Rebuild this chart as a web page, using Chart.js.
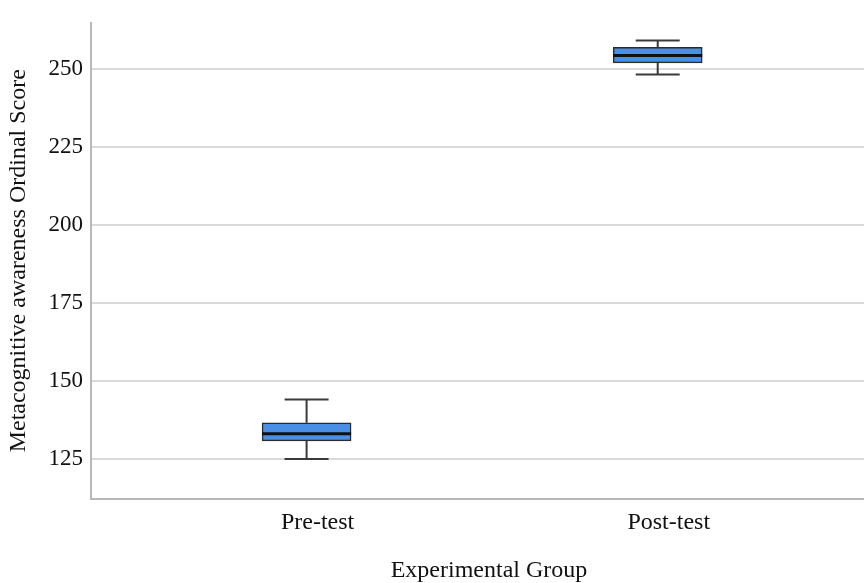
<!DOCTYPE html>
<html>
<head>
<meta charset="utf-8">
<script src="https://cdn.jsdelivr.net/npm/chart.js@4.4.0/dist/chart.umd.min.js"></script>
<style>
  html, body { margin: 0; padding: 0; background: #fff; overflow: hidden; }
  /* the original figure is cropped on the right, so the chart is a bit wider than the window */
  #wrap { width: 887px; height: 583px; }
</style>
</head>
<body>
<div id="wrap"><canvas id="boxChart"></canvas></div>
<script>
// box plot data
const groups = ['Pre-test', 'Post-test'];
const groupPos = [1, 2];
const mins = [125, 248.4];
const q1s = [130.8, 252.1];
const medians = [133.1, 254.5];
const q3s = [136.6, 257.1];
const maxs = [144.1, 259.3];
const yTicks = [125, 150, 175, 200, 225, 250];

const serif = "'Liberation Serif', 'DejaVu Serif', serif";

// whiskers + median drawn through the chart scales
const whiskerPlugin = {
    id: 'whiskers',
    afterDatasetsDraw(chart) {
        const ctx = chart.ctx;
        const x = chart.scales.x;
        const y = chart.scales.y;
        ctx.save();
        groupPos.forEach((p, i) => {
            const cx = x.getPixelForValue(p);
            const half = 44.5;
            const capHalf = 22;
            ctx.strokeStyle = '#3a3a3a';
            ctx.lineWidth = 2;
            ctx.beginPath();
            ctx.moveTo(cx, y.getPixelForValue(q3s[i]));
            ctx.lineTo(cx, y.getPixelForValue(maxs[i]));
            ctx.moveTo(cx, y.getPixelForValue(q1s[i]));
            ctx.lineTo(cx, y.getPixelForValue(mins[i]));
            ctx.moveTo(cx - capHalf, y.getPixelForValue(maxs[i]));
            ctx.lineTo(cx + capHalf, y.getPixelForValue(maxs[i]));
            ctx.moveTo(cx - capHalf, y.getPixelForValue(mins[i]));
            ctx.lineTo(cx + capHalf, y.getPixelForValue(mins[i]));
            ctx.stroke();
            // median
            ctx.strokeStyle = '#111';
            ctx.lineWidth = 3;
            ctx.beginPath();
            ctx.moveTo(cx - half, y.getPixelForValue(medians[i]));
            ctx.lineTo(cx + half, y.getPixelForValue(medians[i]));
            ctx.stroke();
        });
        ctx.restore();
    }
};

const ctx1 = document.getElementById('boxChart').getContext('2d');
const boxChart = new Chart(ctx1, {
    type: 'bar',
    data: {
        datasets: [{
            label: 'Box',
            data: groupPos.map((p, i) => ({ x: p, y: [q1s[i], q3s[i]] })),
            backgroundColor: '#4a8fe6',
            borderColor: '#2b2b2b',
            borderWidth: 1.5,
            borderSkipped: false,
            barThickness: 89
        }]
    },
    options: {
        responsive: true,
        maintainAspectRatio: false,
        animation: false,
        layout: { padding: { top: 23, right: 0, left: 0, bottom: 0 } },
        plugins: {
            legend: { display: false },
            tooltip: { enabled: false }
        },
        scales: {
            x: {
                type: 'linear',
                offset: false,
                min: 0.386,
                max: 2.653,
                afterBuildTicks: (scale) => { scale.ticks = groupPos.map(v => ({ value: v })); },
                afterFit: (scale) => { scale.height = 84.5; },
                grid: { display: false, drawTicks: false, offset: false },
                border: { color: '#b8b8b8', width: 2 },
                ticks: {
                    padding: 10,
                    labelOffset: 11,
                    color: '#111',
                    font: { family: serif, size: 24 },
                    callback: (v) => groups[groupPos.indexOf(v)] || ''
                },
                title: {
                    display: true,
                    text: 'Experimental Group',
                    color: '#111',
                    font: { family: serif, size: 24, lineHeight: 1.0 },
                    padding: { top: 0, bottom: 0 }
                }
            },
            y: {
                min: 112.3,
                max: 264.9,
                afterBuildTicks: (scale) => { scale.ticks = yTicks.map(v => ({ value: v })); },
                afterFit: (scale) => { scale.width = 91; },
                grid: { color: '#dadada', lineWidth: 2, drawTicks: false },
                border: { color: '#b8b8b8', width: 2 },
                ticks: {
                    padding: 8,
                    color: '#111',
                    font: { family: serif, size: 23 }
                },
                title: {
                    display: true,
                    text: 'Metacognitive awareness Ordinal Score',
                    color: '#111',
                    font: { family: serif, size: 24, lineHeight: 1.2 },
                    padding: { top: 4, bottom: 0 }
                }
            }
        }
    },
    plugins: [whiskerPlugin]
});
</script>
</body>
</html>
